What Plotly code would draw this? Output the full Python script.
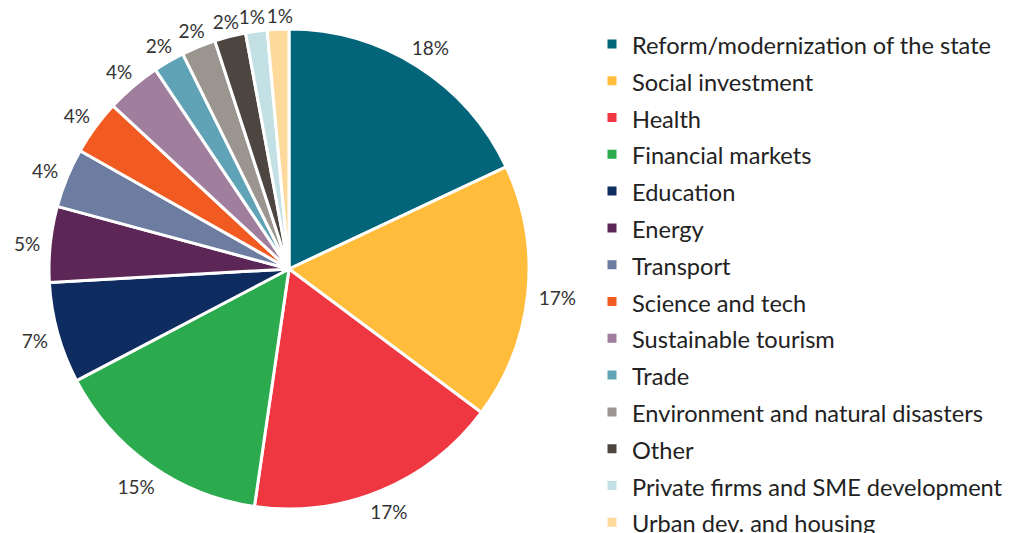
import math
import plotly.graph_objects as go

sectors = [
    "Reform/modernization of the state",
    "Social investment",
    "Health",
    "Financial markets",
    "Education",
    "Energy",
    "Transport",
    "Science and tech",
    "Sustainable tourism",
    "Trade",
    "Environment and natural disasters",
    "Other",
    "Private firms and SME development",
    "Urban dev. and housing",
]
shares = [18.0, 17.2, 17.1, 15.0, 6.8, 5.1, 4.0, 3.7, 3.7, 2.1, 2.3, 2.1, 1.45, 1.45]
colors = [
    "#02657A", "#FFBD3B", "#EE3741", "#2BAA4E", "#0F2C61", "#5C2656", "#6D7CA1",
    "#F15B22", "#A07F9E", "#60A3B6", "#9A958F", "#4C4540", "#C3E1E5", "#FDDA9C",
]

# the page body has an 8px margin, so the figure is a little larger than the
# window and sits 8px right/down; the window crops the rest like the original
W, H = 1021, 541
cx, cy, R = 281, 261, 240  # pie centre and radius, figure pixels

# legend rows are spaced from the nominal legend font size (26), text drawn smaller
legend_labels = [f'<span style="font-size:23.6px">{s}</span>' for s in sectors]

fig = go.Figure()

fig.add_trace(
    go.Pie(
        labels=legend_labels,
        values=shares,
        sort=False,
        direction="clockwise",
        rotation=0,
        marker=dict(colors=colors, line=dict(color="white", width=3)),
        textinfo="none",
        domain=dict(x=[(cx - R) / W, (cx + R) / W], y=[(H - cy - R) / H, (H - cy + R) / H]),
        hoverinfo="label+percent",
    ))

# percentage labels just outside each slice, from the mid angle of the slice
total = sum(shares)
lx, ly, lw, ltxt = [], [], [], []
acc = 0
for v in shares:
    mid = (acc + v / 2) / total * 2 * math.pi
    acc += v
    txt = f"{round(v / total * 100)}%"
    s, c = math.sin(mid), math.cos(mid)
    w = 13 * len(txt)
    r = R + 10 + abs(s) * w / 2 + abs(c) * 4
    lx.append(cx + s * r)
    ly.append(cy - c * r + 4)
    lw.append(w)
    ltxt.append(txt)

# push neighbouring labels apart when they collide
for i in range(1, len(lx)):
    need = (lw[i - 1] + lw[i]) / 2 + 2
    if abs(ly[i] - ly[i - 1]) < 18 and abs(lx[i] - lx[i - 1]) < need:
        gap = need - abs(lx[i] - lx[i - 1])
        sign = 1 if lx[i] >= lx[i - 1] else -1
        lx[i] += sign * gap / 2
        lx[i - 1] -= sign * gap / 2

fig.add_trace(
    go.Scatter(
        x=lx,
        y=ly,
        text=ltxt,
        mode="text",
        textposition="middle center",
        textfont=dict(size=19, color="#333333", family="Lato"),
        cliponaxis=False,
        showlegend=False,
        hoverinfo="skip",
    ))

fig.update_layout(
    width=W,
    height=H,
    margin=dict(l=0, r=0, t=0, b=0),
    paper_bgcolor="white",
    plot_bgcolor="rgba(0,0,0,0)",
    font=dict(family="Lato", size=24, color="#222222"),
    xaxis=dict(range=[0, W], visible=False, domain=[0, 1], fixedrange=True),
    yaxis=dict(range=[H, 0], visible=False, domain=[0, 1], fixedrange=True),
    legend=dict(
        x=584 / W,
        xanchor="left",
        y=1 - 12.5 / H,
        yanchor="top",
        tracegroupgap=0,
        font=dict(size=26, family="Lato", color="#222222"),
    ),
)

fig.write_html("out.html")
